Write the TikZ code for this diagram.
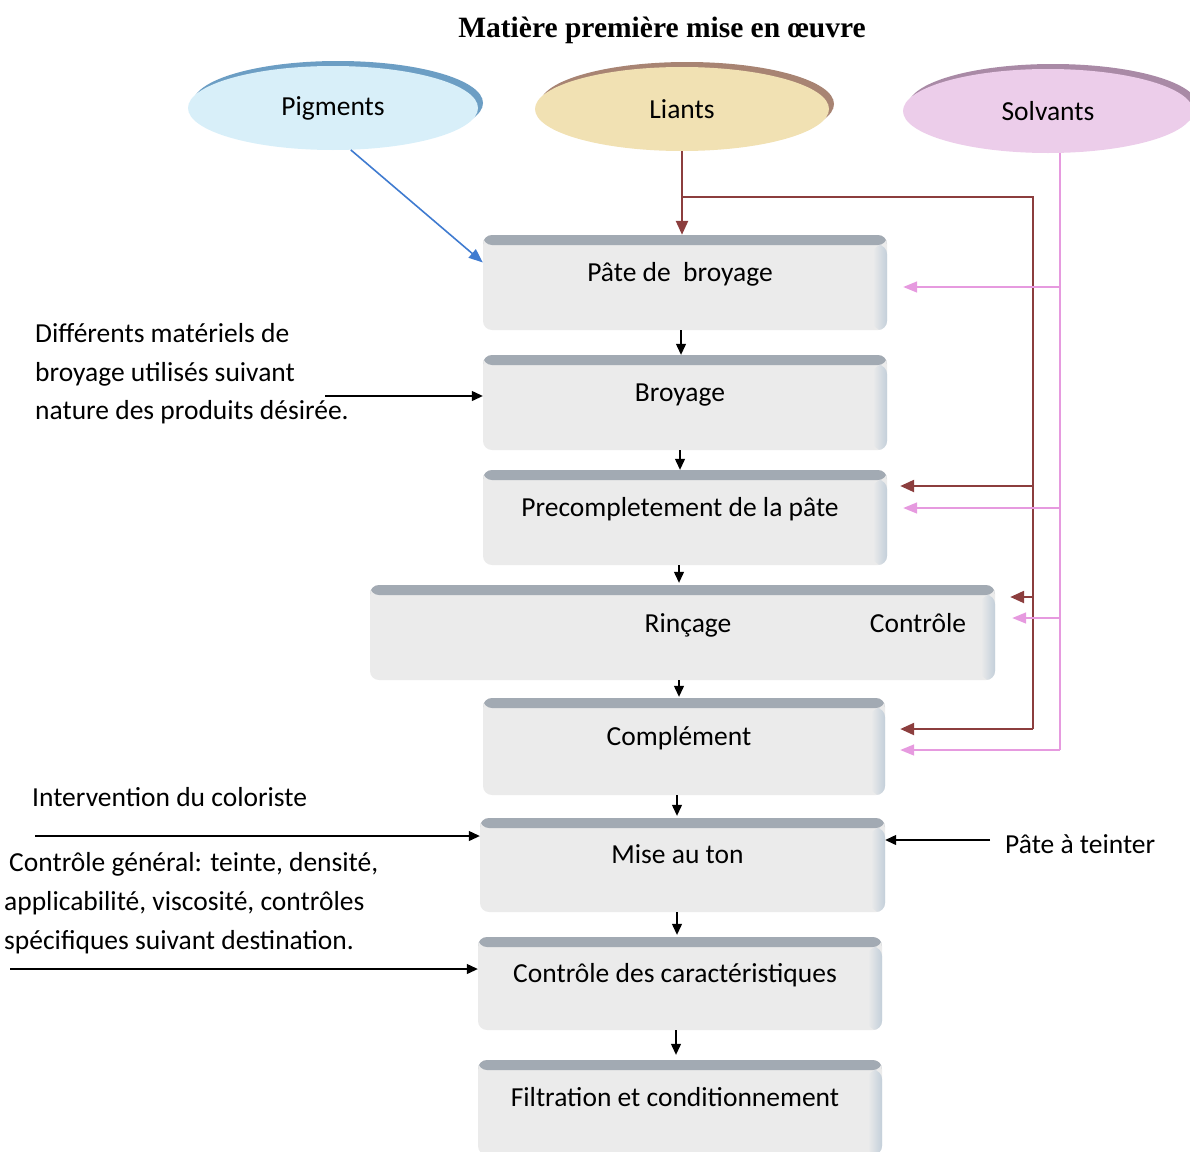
\documentclass[tikz,border=0pt]{standalone}
\usepackage{fontspec}
\setmainfont{Carlito}
\newfontfamily\titlefont{Liberation Serif}
\usetikzlibrary{arrows.meta,shapes.geometric,shadows,calc}
\definecolor{boxface}{HTML}{EBEBEB}
\definecolor{boxband}{HTML}{A2AAB3}
\definecolor{boxedge}{HTML}{C3CFDA}
\definecolor{brownc}{HTML}{8C3E3E}
\definecolor{pinkc}{HTML}{E69ADF}
\definecolor{bluec}{HTML}{3F7BD0}
\definecolor{pigfill}{HTML}{D8EFF9}
\definecolor{pigrim}{HTML}{6C9EC4}
\definecolor{lifill}{HTML}{F1E1B3}
\definecolor{lirim}{HTML}{A88473}
\definecolor{solfill}{HTML}{ECCDEA}
\definecolor{solrim}{HTML}{A98AA6}
\begin{document}
\begin{tikzpicture}[x=1pt,y=-1pt,
  every node/.style={font=\fontsize{27.5}{33}\selectfont},
  stepbox/.style={rectangle, rounded corners=9pt, fill=boxface,
    minimum width=404pt, minimum height=95pt, inner sep=0pt,
    text height=10pt, text depth=13pt,
    execute at end node={\hspace*{10pt}},
    path picture={
      \fill[boxband] (path picture bounding box.north west) rectangle ([yshift=-10pt]path picture bounding box.north east);
      \shade[left color=boxface, right color=boxedge] ([xshift=-14pt,yshift=-10pt]path picture bounding box.north east) rectangle (path picture bounding box.south east);
    }},
  src/.style={ellipse, minimum width=290pt, minimum height=84pt, inner sep=0pt},
  darr/.style={line width=1.2pt, -{Triangle[length=11pt,width=10pt]}},
  barr/.style={draw=brownc, line width=2.4pt, -{Triangle[length=14pt,width=12pt]}},
  bline/.style={draw=brownc, line width=2.4pt},
  parr/.style={draw=pinkc, line width=1.6pt, -{Triangle[length=14pt,width=11pt]}},
  pline/.style={draw=pinkc, line width=1.6pt},
  lbl/.style={anchor=base west, inner sep=0pt},
]
\useasboundingbox (0,0) rectangle (1190,1151);

% title
\node[anchor=base, inner sep=0pt, font=\titlefont\bfseries\fontsize{29.5}{34}\selectfont] (title) at (662,37) {Matière première mise en œuvre};

% sources
\node[src, fill=pigfill, general shadow={fill=pigrim, shadow xshift=5pt, shadow yshift=5pt}] (pig) at (333,108) {Pigments};
\node[src, fill=lifill, general shadow={fill=lirim, shadow xshift=5pt, shadow yshift=5pt}, minimum width=294pt] (li) at (682,109) {Liants};
\node[src, fill=solfill, general shadow={fill=solrim, shadow xshift=5pt, shadow yshift=5pt}] (sol) at (1048,111) {Solvants};

% process boxes
\node[stepbox] (b1) at (685,282.5) {Pâte de~ broyage};
\node[stepbox] (b2) at (685,402.5) {Broyage};
\node[stepbox] (b3) at (685,517.5) {Precompletement de la pâte};
\node[stepbox, minimum width=625pt, execute at end node={}] (b4) at (682.5,632.5) {};
\node[anchor=base, inner sep=0pt] (rinc) at (688,632) {Rinçage};
\node[anchor=base, inner sep=0pt] (ctrl) at (918,632) {Contrôle};
\node[stepbox, minimum width=402pt, minimum height=97pt] (b5) at (684,746.5) {Complément};
\node[stepbox, minimum width=405pt, minimum height=94pt] (b6) at (682.5,865) {Mise au ton};
\node[stepbox, minimum height=93pt] (b7) at (680,983.5) {Contrôle des caractéristiques};
\node[stepbox] (b8) at (680,1107.5) {Filtration et conditionnement};

% vertical flow
\draw[darr] ([xshift=-4pt]b1.south) -- ([xshift=-4pt]b2.north);
\draw[darr] ([xshift=-5pt]b2.south) -- ([xshift=-5pt]b3.north);
\draw[darr] ([xshift=-6pt]b3.south) -- ([xshift=-3.5pt,yshift=2pt]b4.north);
\draw[darr] ([xshift=-3.5pt]b4.south) -- ([xshift=-5pt,yshift=1pt]b5.north);
\draw[darr] ([xshift=-7pt]b5.south) -- ([xshift=-5.5pt,yshift=2pt]b6.north);
\draw[darr] ([xshift=-5.5pt]b6.south) -- ([xshift=-3pt,yshift=2pt]b7.north);
\draw[darr] ([xshift=-4pt]b7.south) -- ([xshift=-4pt,yshift=5pt]b8.north);

% pigments
\draw[draw=bluec, line width=1.6pt, -{Triangle[length=14pt,width=11pt]}] (pig.-67) -- ($(b1.west)+(0,-20)$);

% liants
\coordinate (lj) at (682,197);
\coordinate (lc) at (1033,197);
\coordinate (lb3) at (1033,486);
\coordinate (lb4) at (1033,597);
\coordinate (lb5) at (1033,729);
\draw[barr] (li.south) -- (li.south |- b1.north);
\draw[bline] (lj) -- (lc) -- (lb5);
\draw[barr] (lb3) -- ($(lb3 -| b3.east)+(13,0)$);
\draw[barr] (lb4) -- ($(lb4 -| b4.east)+(15,0)$);
\draw[barr] (lb5) -- ($(lb5 -| b5.east)+(15,0)$);

% solvants
\coordinate (ps) at (1060,153);
\coordinate (p1) at (1060,287);
\coordinate (p3) at (1060,508);
\coordinate (p4) at (1060,618);
\coordinate (p5) at (1060,750);
\draw[pline] (ps) -- (p5);
\draw[parr] (p1) -- ($(p1 -| b1.east)+(16,0)$);
\draw[parr] (p3) -- ($(p3 -| b3.east)+(16,0)$);
\draw[parr] (p4) -- ($(p4 -| b4.east)+(17,0)$);
\draw[parr] (p5) -- ($(p5 -| b5.east)+(15,0)$);

% left annotations
\node[lbl] (t1a) at (35,342) {Différents matériels de};
\node[lbl] (t1b) at (35,381) {broyage utilisés suivant};
\node[lbl] (t1c) at (35,419) {nature des produits désirée.};
\coordinate (a1) at (325,396);
\draw[darr] (a1) -- (a1 -| b2.west);

\node[lbl] (t2) at (32,806) {Intervention du coloriste};
\coordinate (a2) at (35,836);
\draw[darr] (a2) -- (a2 -| b6.west);

\node[lbl] (t3a) at (9,871) {Contrôle général: teinte, densité,};
\node[lbl] (t3b) at (4,910) {applicabilité, viscosité, contrôles};
\node[lbl] (t3c) at (4,949) {spécifiques suivant destination.};
\coordinate (a3) at (10,969);
\draw[darr] (a3) -- (a3 -| b7.west);

% pâte à teinter
\node[lbl] (pat) at (1005,853) {Pâte à teinter};
\coordinate (a4) at (990,840);
\draw[darr] (a4) -- (a4 -| b6.east);
\end{tikzpicture}
\end{document}
